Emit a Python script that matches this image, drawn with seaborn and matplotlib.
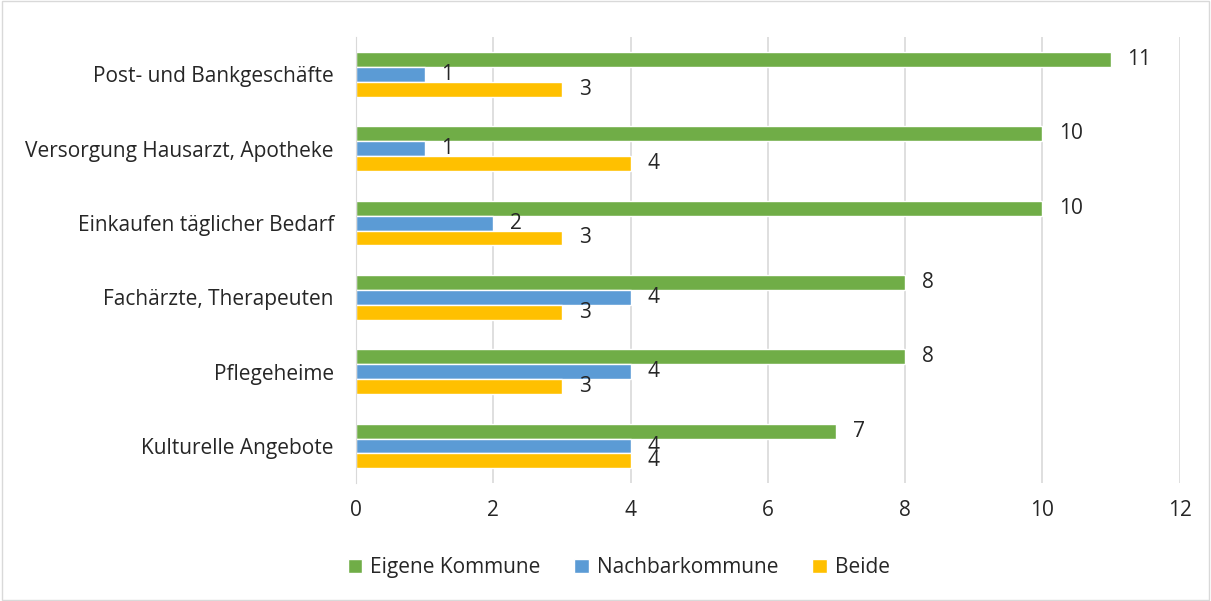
import pandas as pd
import matplotlib.pyplot as plt
import seaborn as sns

sns.set_style('white')
plt.rcParams['font.family'] = ['Open Sans', 'DejaVu Sans']

categories = ['Post- und Bankgeschäfte', 'Versorgung Hausarzt, Apotheke',
              'Einkaufen täglicher Bedarf', 'Fachärzte, Therapeuten',
              'Pflegeheime', 'Kulturelle Angebote']
series = ['Eigene Kommune', 'Nachbarkommune', 'Beide']
eigene = [11, 10, 10, 8, 8, 7]
nachbar = [1, 1, 2, 4, 4, 4]
beide = [3, 4, 3, 3, 3, 4]
colors = ['#70ad47', '#5b9bd5', '#ffc000']

df = pd.DataFrame({
    'Kategorie': categories * 3,
    'Serie': [s for s in series for _ in categories],
    'Wert': eigene + nachbar + beide,
})

fs = 15

fig = plt.figure(figsize=(12.11, 6.01), dpi=100)
ax = fig.add_axes([0.294, 0.196, 0.68, 0.742])
sns.barplot(data=df, y='Kategorie', x='Wert', hue='Serie', order=categories,
            hue_order=series, palette=colors, orient='h', width=0.6,
            saturation=1, ax=ax)

for c in ax.containers:
    ax.bar_label(c, padding=12, fontsize=fs)

ax.set_xlim(0, 12)
ax.set_xticks(range(0, 13, 2))
ax.set_xlabel('')
ax.set_ylabel('')
ax.tick_params(axis='both', labelsize=fs, length=0)
ax.tick_params(axis='y', pad=16)
ax.tick_params(axis='x', pad=12)
ax.grid(axis='x', color='#d9d9d9', linewidth=1.2)
ax.set_axisbelow(True)
for s in ['top', 'right', 'bottom']:
    ax.spines[s].set_visible(False)
ax.spines['left'].set_color('#d9d9d9')

ax.legend(loc='center', bbox_to_anchor=(0.319, -0.19), ncol=3, frameon=False,
          fontsize=fs, handlelength=0.7, handleheight=0.7, columnspacing=1.6,
          handletextpad=0.4)

fig.patches.append(plt.Rectangle((0.002, 0.002), 0.996, 0.996, transform=fig.transFigure,
                                 fill=False, edgecolor='#d9d9d9', linewidth=1))
fig.savefig('out.png', dpi=100)
